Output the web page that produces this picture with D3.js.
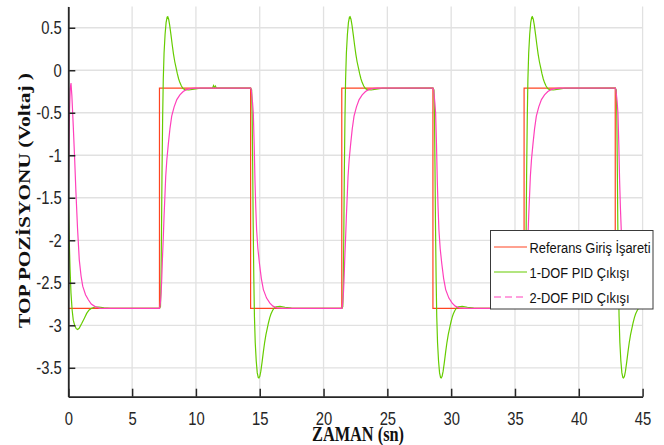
<!DOCTYPE html>
<html>
<head>
<meta charset="utf-8">
<script src="https://cdn.jsdelivr.net/npm/d3@7"></script>
<style>
  body { margin: 0; background: #fff; }
  svg { display: block; }
</style>
</head>
<body>
<svg id="chart" width="664" height="445"></svg>
<script>
// tick labels
var xTicks = [0, 5, 10, 15, 20, 25, 30, 35, 40, 45];
var yTicks = [0.5, 0, -0.5, -1, -1.5, -2, -2.5, -3, -3.5];

// square wave reference (0.07 Hz), switching times in seconds
var stepTimes = [7.143, 14.286, 21.429, 28.571, 35.714, 42.857];
var refLow = -2.8, refHigh = -0.21;

// 1-DOF PID response: start, then shape after each up / down step [dt, volt]
var green0 = [[0, -1.5], [0.04, -1.75], [0.08, -2.03], [0.14, -2.35], [0.21, -2.62], [0.3, -2.82],
  [0.39, -2.94], [0.5, -3.0], [0.62, -3.04], [0.73, -3.05], [0.85, -3.035], [1.05, -2.98], [1.25, -2.92],
  [1.44, -2.86], [1.63, -2.82], [1.83, -2.8], [2.1, -2.785], [2.4, -2.785], [2.8, -2.795], [3.3, -2.8], [7.14, -2.8]];
var greenUp = [[0, -2.8], [0.08, -2.78], [0.12, -2.5], [0.16, -1.9], [0.2, -1.2], [0.25, -0.55], [0.3, -0.1],
  [0.36, 0.2], [0.44, 0.42], [0.52, 0.56], [0.6, 0.625], [0.65, 0.63], [0.72, 0.6], [0.8, 0.53], [0.9, 0.42],
  [1.0, 0.3], [1.1, 0.19], [1.2, 0.1], [1.3, 0.03], [1.4, -0.04], [1.5, -0.1], [1.6, -0.145], [1.72, -0.185],
  [1.85, -0.215], [2.0, -0.228], [2.3, -0.232], [2.7, -0.222], [3.2, -0.212], [7.14, -0.21]];
var greenDown = [[0, -0.21], [0.08, -0.23], [0.12, -0.5], [0.16, -1.1], [0.2, -1.8], [0.25, -2.45], [0.3, -2.9],
  [0.36, -3.2], [0.44, -3.42], [0.52, -3.56], [0.6, -3.615], [0.65, -3.62], [0.72, -3.6], [0.8, -3.54],
  [0.9, -3.43], [1.0, -3.31], [1.1, -3.2], [1.2, -3.11], [1.3, -3.04], [1.4, -2.97], [1.5, -2.91], [1.6, -2.865],
  [1.72, -2.825], [1.85, -2.795], [2.0, -2.782], [2.3, -2.778], [2.7, -2.788], [3.2, -2.798], [7.14, -2.8]];
var greenBlip = [[11.3, -0.21], [11.38, -0.18], [11.45, -0.205], [11.52, -0.185], [11.6, -0.21]];

// 2-DOF PID response
var pink0 = [[0, -1.45], [0.05, -0.9], [0.1, -0.45], [0.15, -0.22], [0.21, -0.15], [0.28, -0.3], [0.39, -0.66],
  [0.5, -1.05], [0.6, -1.44], [0.72, -1.85], [0.86, -2.23], [1.0, -2.42], [1.13, -2.54], [1.35, -2.64],
  [1.57, -2.7], [1.8, -2.75], [2.1, -2.78], [2.5, -2.8], [7.14, -2.8]];
var pinkUp = [[0, -2.8], [0.04, -2.78], [0.08, -2.72], [0.13, -2.62], [0.18, -2.45], [0.23, -2.23], [0.3, -1.97],
  [0.36, -1.72], [0.43, -1.47], [0.49, -1.25], [0.58, -1.05], [0.7, -0.86], [0.82, -0.69], [0.96, -0.54],
  [1.15, -0.43], [1.36, -0.345], [1.6, -0.29], [1.86, -0.25], [2.1, -0.228], [2.4, -0.216], [2.8, -0.21], [7.14, -0.21]];
var pinkDown = [[0, -0.21], [0.05, -0.23], [0.1, -0.3], [0.15, -0.38], [0.21, -0.5], [0.28, -0.88], [0.34, -1.29],
  [0.4, -1.6], [0.47, -1.88], [0.57, -2.1], [0.69, -2.27], [0.84, -2.45], [1.0, -2.58], [1.25, -2.68],
  [1.51, -2.74], [1.75, -2.775], [2.05, -2.795], [2.5, -2.8], [7.14, -2.8]];

var legendLabels = ["Referans Giriş İşareti", "1-DOF PID Çıkışı", "2-DOF PID Çıkışı"];
var colors = ["#ff4422", "#66cc00", "#ff40bb"];

var svg = d3.select("#chart");
var pL = 68.3, pR = 642.6, pT = 6.5, pB = 396.7;
var SX = 0.8; // glyphs in the picture are narrower than tall

var x = d3.scaleLinear().domain([0, 45]).range([pL, pR]);
var y = d3.scaleLinear().domain([-3.84, 0.75]).range([pB, pT]);

// build the series from the step shapes
function build(start, up, down, extra) {
  var pts = start.slice();
  stepTimes.forEach(function (T, i) {
    (i % 2 === 0 ? up : down).forEach(function (d) { pts.push([T + d[0], d[1]]); });
  });
  if (extra) pts = pts.concat(extra);
  return pts.sort(function (a, b) { return a[0] - b[0]; });
}
var refData = [[0, refLow]];
stepTimes.forEach(function (T, i) {
  var from = i % 2 === 0 ? refLow : refHigh, to = i % 2 === 0 ? refHigh : refLow;
  refData.push([T, from], [T, to]);
});
refData.push([45, refLow]);
var greenData = build(green0, greenUp, greenDown, greenBlip);
var pinkData = build(pink0, pinkUp, pinkDown);

// grid
svg.append("g").selectAll("line").data(xTicks).join("line")
  .attr("x1", d => x(d)).attr("x2", d => x(d)).attr("y1", pT).attr("y2", pB)
  .attr("stroke", "#e1e1e1").attr("stroke-width", 1.3);
svg.append("g").selectAll("line").data(yTicks).join("line")
  .attr("x1", pL).attr("x2", pR).attr("y1", d => y(d)).attr("y2", d => y(d))
  .attr("stroke", "#e1e1e1").attr("stroke-width", 1.3);

svg.append("clipPath").attr("id", "clip").append("rect")
  .attr("x", pL).attr("y", pT).attr("width", pR - pL).attr("height", pB - pT);

var line = d3.line().x(d => x(d[0])).y(d => y(d[1]));
var plot = svg.append("g").attr("clip-path", "url(#clip)");
[refData, greenData, pinkData].forEach(function (data, i) {
  plot.append("path").datum(data).attr("d", line)
    .attr("fill", "none").attr("stroke", colors[i]).attr("stroke-width", 1.2);
});

// axes
var xAxis = svg.append("g").attr("transform", "translate(0," + pB + ")")
  .call(d3.axisBottom(x).tickValues(xTicks).tickSize(-8).tickSizeOuter(0).tickPadding(15.5).tickFormat(d => String(d)));
var yAxis = svg.append("g").attr("transform", "translate(" + pL + ",0)")
  .call(d3.axisLeft(y).tickValues(yTicks).tickSize(-7).tickSizeOuter(0).tickFormat(d => String(d)));
[xAxis, yAxis].forEach(function (g) {
  g.select(".domain").attr("stroke", "#262626").attr("stroke-width", 1.8);
  g.selectAll(".tick line").attr("stroke", "#262626").attr("stroke-width", 1.5);
  g.selectAll(".tick text").attr("fill", "#262626")
    .style("font-family", "'Liberation Sans', Arial, sans-serif").style("font-size", "18.5px")
    .attr("transform", "scale(" + SX + ",1)");
});
yAxis.selectAll(".tick text").attr("x", -6.5 / SX);

// axis titles
svg.append("text")
  .attr("transform", "translate(29.5,200.5) rotate(-90)")
  .attr("text-anchor", "middle")
  .attr("textLength", 255).attr("lengthAdjust", "spacingAndGlyphs")
  .style("font-family", "'Liberation Serif', 'Times New Roman', serif")
  .style("font-weight", "bold").style("font-size", "16.6px").attr("fill", "#111")
  .text("TOP POZİSYONU (Voltaj )");
svg.append("text")
  .attr("x", 312).attr("y", 441)
  .attr("textLength", 92).attr("lengthAdjust", "spacingAndGlyphs")
  .style("font-family", "'Liberation Serif', 'Times New Roman', serif")
  .style("font-weight", "bold").style("font-size", "20px").attr("fill", "#111")
  .text("ZAMAN (sn)");

// legend
var lg = svg.append("g");
lg.append("rect").attr("x", 490.5).attr("y", 230.5).attr("width", 162.5).attr("height", 78.5)
  .attr("fill", "#fff").attr("stroke", "#3a3a3a").attr("stroke-width", 1);
var textLens = [121, 100, 100];
var rows = lg.selectAll("g.row").data(legendLabels).join("g")
  .attr("transform", (d, i) => "translate(0," + (247 + i * 25) + ")");
rows.append("line").attr("x1", 494).attr("x2", 527).attr("y1", 0).attr("y2", 0)
  .attr("stroke", (d, i) => colors[i]).attr("stroke-width", 1.2)
  .attr("stroke-dasharray", (d, i) => i === 2 ? "7,4" : null);
rows.append("text").attr("x", 529.5).attr("dy", "0.36em")
  .attr("textLength", (d, i) => textLens[i]).attr("lengthAdjust", "spacingAndGlyphs")
  .style("font-family", "'Liberation Sans', Arial, sans-serif").style("font-size", "15.5px")
  .attr("fill", "#111").text(d => d);
</script>
</body>
</html>
